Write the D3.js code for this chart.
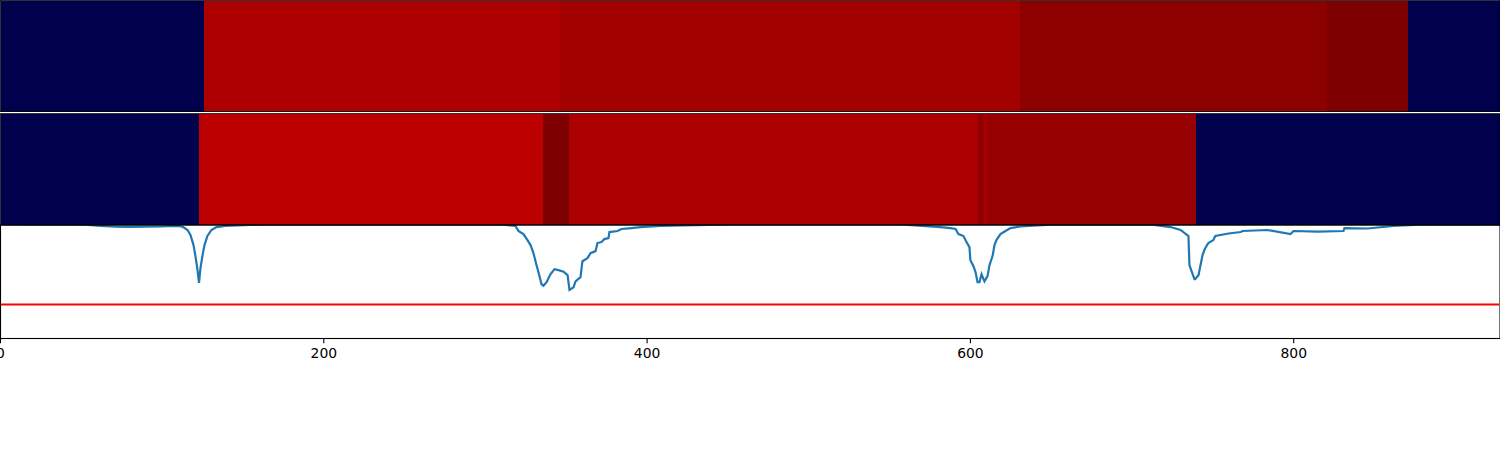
<!DOCTYPE html>
<html>
<head>
<meta charset="utf-8">
<script src="https://cdnjs.cloudflare.com/ajax/libs/d3/7.8.5/d3.min.js"></script>
<style>
  body { margin: 0; background: #fff; }
  svg { display: block; }
  .tick text { font-family: "DejaVu Sans"; font-size: 13.9px; fill: #000; }
</style>
</head>
<body>
<script>
// segment edges and heat values for the two top strips
var topEdges = [0, 126, 346.2, 630.4, 820.9, 871, 928];
var topValues = [-1, 0.818, 0.86, 0.945, 1, -1];
var midEdges = [0, 123, 335.7, 351.6, 605, 608, 610, 739.6, 928];
var midValues = [-1, 0.763, 1, 0.833, 0.93, 0.86, 0.905, -1];

// score curve
var lineX = [0, 52, 62, 71, 80, 99, 110, 113, 115.7, 117.5, 119.4, 120.6, 121.9, 122.8, 123.7, 125, 126.2, 128, 130.5, 133.6, 139, 161,
  309, 318.6, 320.4, 323.5, 326, 327.9, 329.7, 331.6, 332.8, 334.7, 335.9, 337.8, 340.2, 342.7, 345.2, 348.3, 350.8, 352, 354.5, 355.7, 358.8, 360, 363.1, 365, 368.1, 369.3, 371.8, 373.6, 376.1, 376.7, 381.7, 384.2, 390.3, 395.9, 408.3, 445.4,
  556.8, 581.5, 587.7, 590.8, 592.6, 595.7, 597.6, 599.4, 600, 601.9, 603.2, 604.4, 605.6, 606.9, 608.7, 610.6, 611.8, 613.7, 614.9, 616.1, 618.6, 621.7, 624.8, 631, 649.6,
  711.4, 723.8, 730, 734.9, 735.5, 738.6, 739, 741.1, 743.6, 745, 747.2, 750.3, 751.5, 759.7, 767.2, 768.4, 783.8, 798, 799.9, 814.7, 830.8, 831.4, 845.7, 861.7, 878, 928];
var lineY = [1.006, 1.004, 0.991, 0.985, 0.984, 0.987, 0.991, 0.982, 0.956, 0.912, 0.823, 0.726, 0.602, 0.491, 0.619, 0.735, 0.823, 0.903, 0.956, 0.982, 0.991, 1.004,
  1.006, 0.991, 0.947, 0.920, 0.867, 0.823, 0.752, 0.646, 0.584, 0.478, 0.465, 0.496, 0.566, 0.611, 0.602, 0.588, 0.558, 0.429, 0.451, 0.504, 0.540, 0.681, 0.708, 0.752, 0.770, 0.841, 0.850, 0.876, 0.885, 0.938, 0.947, 0.965, 0.973, 0.982, 0.991, 1.004,
  1.006, 0.982, 0.973, 0.965, 0.920, 0.903, 0.850, 0.805, 0.690, 0.637, 0.584, 0.496, 0.496, 0.566, 0.504, 0.549, 0.646, 0.726, 0.823, 0.867, 0.920, 0.947, 0.973, 0.987, 1.002,
  1.006, 0.982, 0.956, 0.903, 0.646, 0.522, 0.522, 0.558, 0.735, 0.788, 0.841, 0.867, 0.903, 0.925, 0.938, 0.947, 0.956, 0.920, 0.947, 0.942, 0.947, 0.973, 0.969, 0.991, 1.004, 1.006];
var threshold = 0.3;
var xTicks = [0, 200, 400, 600, 800];

var w = 1500, h = 450;
var panels = [{top: 0.5, bottom: 111.6}, {top: 113.6, bottom: 225}, {top: 225, bottom: 338.5}];

var svg = d3.select("body").append("svg")
            .attr("width", w)
            .attr("height", h);

var xScale = d3.scaleLinear().domain([0, 927]).range([0.5, 1499]);
var yScale = d3.scaleLinear().domain([0, 1]).range([panels[2].bottom, panels[2].top]);
// same stops as matplotlib's seismic map
var colorScale = d3.scaleLinear()
                   .domain([-1, -0.5, 0, 0.5, 1])
                   .range(["#00004c", "#0000ff", "#ffffff", "#ff0000", "#7f0000"]);

function drawStrip(edges, values, panel) {
  svg.append("g").selectAll("rect")
     .data(values)
     .enter()
     .append("rect")
     .attr("x", function(d, i) { return xScale(edges[i]); })
     .attr("width", function(d, i) { return xScale(edges[i + 1]) - xScale(edges[i]); })
     .attr("y", panel.top)
     .attr("height", panel.bottom - panel.top)
     .attr("fill", function(d) { return colorScale(d); })
     .attr("shape-rendering", "crispEdges");
}
drawStrip(topEdges, topValues, panels[0]);
drawStrip(midEdges, midValues, panels[1]);

svg.append("clipPath").attr("id", "lineClip")
   .append("rect")
   .attr("x", 0).attr("y", panels[2].top)
   .attr("width", w).attr("height", panels[2].bottom - panels[2].top);

var line = d3.line()
             .x(function(d) { return xScale(d); })
             .y(function(d, i) { return yScale(lineY[i]); });

var plot = svg.append("g").attr("clip-path", "url(#lineClip)");
plot.append("path")
    .attr("d", line(lineX))
    .attr("fill", "none")
    .attr("stroke", "#1f77b4")
    .attr("stroke-width", 2.2);
plot.append("line")
    .attr("x1", 0).attr("x2", xScale(927))
    .attr("y1", yScale(threshold)).attr("y2", yScale(threshold))
    .attr("stroke", "#ff0000")
    .attr("stroke-width", 2.08);

// frames of the three panels
panels.forEach(function(p, i) {
  svg.append("rect")
     .attr("x", 0.5).attr("y", p.top)
     .attr("width", 1499.5).attr("height", p.bottom - p.top)
     .attr("fill", "none")
     .attr("stroke", "#000")
     .attr("stroke-width", i == 2 ? 1.1 : 0.8);
});

var xAxis = d3.axisBottom(xScale).tickValues(xTicks).tickSize(4.86).tickPadding(4.9).offset(0);
var axisG = svg.append("g")
   .attr("transform", "translate(0," + panels[2].bottom + ")")
   .call(xAxis);
axisG.select(".domain").remove();
axisG.selectAll(".tick line").attr("stroke", "#000").attr("stroke-width", 1.1);
</script>
</body>
</html>
